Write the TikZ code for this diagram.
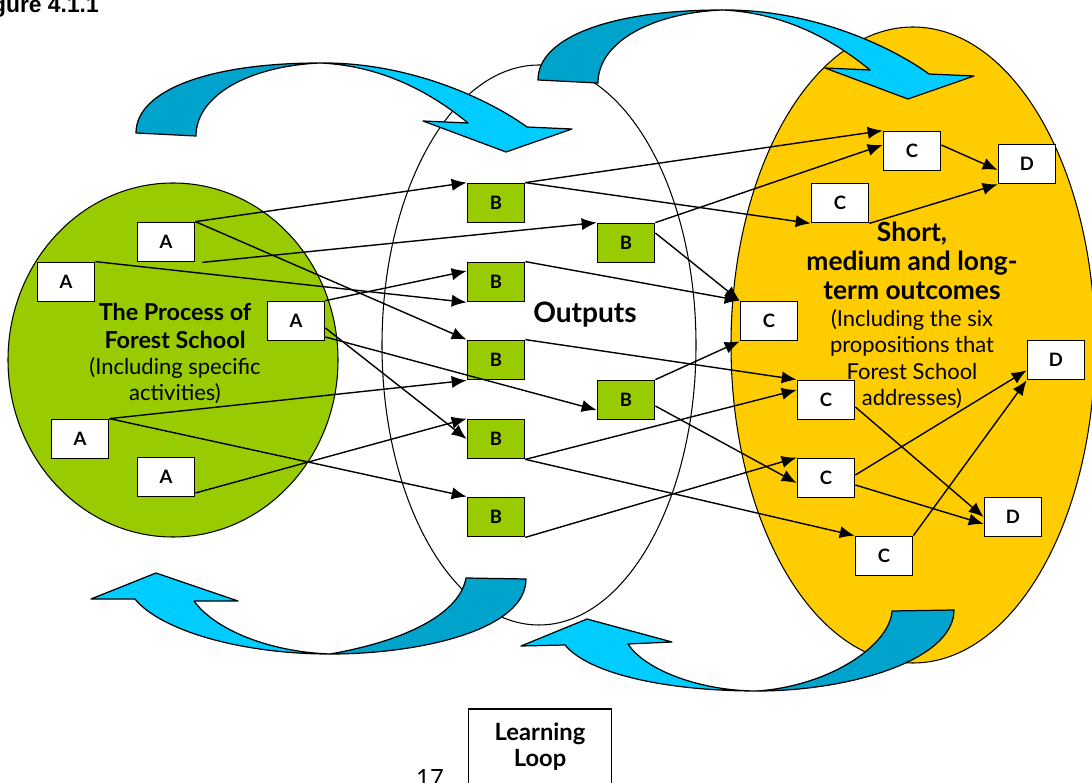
\documentclass[tikz,border=0pt]{standalone}
\usepackage{fontspec}
\setmainfont{Lato}
\newfontfamily\arialfont{Liberation Sans}
\usetikzlibrary{arrows.meta,positioning}
\definecolor{fsgreen}{RGB}{153,204,0}
\definecolor{fsyellow}{RGB}{255,204,0}
\definecolor{loopcyan}{RGB}{0,204,255}
\definecolor{loopdark}{RGB}{0,163,204}
\begin{document}
\begin{tikzpicture}[
    x=0.02cm, y=-0.02cm,
    box/.style={rectangle, draw, fill=white, line width=1pt, minimum width=1.14cm, minimum height=0.78cm, inner sep=0pt, font=\bfseries\fontsize{10.5}{12}\selectfont},
    outbox/.style={box, fill=fsgreen},
    loopbox/.style={rectangle, draw, line width=1pt, minimum width=2.86cm, minimum height=2cm, anchor=north},
    blob/.style={draw, line width=0.6pt},
    band/.style={draw, line width=0.7pt, line join=round},
    link/.style={->, line width=0.8pt},
    >={Latex[length=8.5pt,width=7pt]}
]
\useasboundingbox (0,0) rectangle (1092,783);

% Ueberschrift
\node[anchor=base east, font=\arialfont\bfseries\fontsize{13}{15}\selectfont] (figlabel) at (105,13) {Figure 4.1.1};

% Ellipsen
\draw[blob, fill=fsgreen] (173,360) ellipse [x radius=165, y radius=177];
\draw[blob, fill=white] (539,345) ellipse [x radius=157, y radius=280];
\draw[blob, fill=fsyellow] (913,345) ellipse [x radius=182, y radius=318];

% Lernschleife oben links
\draw[band, fill=loopdark] (136,133) .. controls (136,90) and (210,63) .. (320,63)
    .. controls (250,66) and (196,95) .. (196,136) -- cycle;
\draw[band, fill=loopcyan] (320,63) .. controls (410,62) and (490,100) .. (527,127)
    -- (572,129) -- (506,152) -- (423,121) -- (468,123)
    .. controls (440,100) and (390,66) .. (320,63) -- cycle;

% Lernschleife oben rechts
\draw[band, fill=loopdark] (538,80) .. controls (538,37) and (612,10) .. (722,10)
    .. controls (652,13) and (598,42) .. (598,83) -- cycle;
\draw[band, fill=loopcyan] (722,10) .. controls (812,9) and (892,47) .. (929,74)
    -- (974,76) -- (908,99) -- (825,68) -- (870,70)
    .. controls (842,47) and (792,13) .. (722,10) -- cycle;

% Lernschleife unten links
\draw[band, fill=loopdark] (526,579) .. controls (526,630) and (420,654) .. (330,654)
    .. controls (410,640) and (460,612) .. (466,578) -- cycle;
\draw[band, fill=loopcyan] (330,654) .. controls (240,654) and (160,630) .. (135,599)
    -- (91,599) -- (156,573) -- (238,601) -- (194,601)
    .. controls (215,630) and (270,652) .. (330,654) -- cycle;

% Lernschleife unten rechts
\draw[band, fill=loopdark] (954,610) .. controls (954,660) and (850,691) .. (757,691)
    .. controls (830,686) and (890,645) .. (892,611) -- cycle;
\draw[band, fill=loopcyan] (757,691) .. controls (670,691) and (590,675) .. (565,645)
    -- (521,646) -- (587,619) -- (672,642) -- (628,644)
    .. controls (645,670) and (700,691) .. (757,691) -- cycle;

% Beschriftungen der Ellipsen
\node[align=center, font=\fontsize{12.5}{14.8}\selectfont] (process) at (175,353)
    {{\bfseries\fontsize{13.3}{14.8}\selectfont The Process of}\\[1.2pt]
     {\bfseries\fontsize{13.3}{14.8}\selectfont Forest School}\\(Including specific\\activities)};
\node[font=\bfseries\fontsize{16}{18}\selectfont] (outputs) at (585,315) {Outputs};
\node[align=center, font=\fontsize{12.5}{14.9}\selectfont] (outcomes) at (912,315)
    {{\bfseries\fontsize{15}{14.9}\selectfont Short,}\\[1.8pt]
     {\bfseries\fontsize{15}{14.9}\selectfont medium and long-}\\[1.8pt]
     {\bfseries\fontsize{15}{14.9}\selectfont term outcomes}\\[0.4pt]
     (Including the six\\propositions that\\Forest School\\addresses)};

% Kaestchen A
\node[box] at (166,242) (a1) {A};
\node[box] at (66,282) (a2) {A};
\node[box] at (296,321) (a3) {A};
\node[box] at (80,439) (a4) {A};
\node[box] at (166,477) (a5) {A};

% Kaestchen B
\node[outbox] at (496,203) (b1) {B};
\node[outbox] at (496,282) (b2) {B};
\node[outbox] at (496,360) (b3) {B};
\node[outbox] at (496,439) (b4) {B};
\node[outbox] at (496,517) (b5) {B};
\node[outbox] at (626,243) (b6) {B};
\node[outbox] at (626,400) (b7) {B};

% Kaestchen C
\node[box] at (912,151) (c1) {C};
\node[box] at (840,203) (c2) {C};
\node[box] at (769,321) (c3) {C};
\node[box] at (826,400) (c4) {C};
\node[box] at (826,478) (c5) {C};
\node[box] at (884,556) (c6) {C};

% Kaestchen D
\node[box] at (1027,164) (d1) {D};
\node[box] at (1056,360) (d2) {D};
\node[box] at (1013,517) (d3) {D};

% Verbindungen A nach B
\draw[link] (a1.north east) -- (b1.north west);
\draw[link] (a1.north east) -- (b3.north west);
\draw[link] ([xshift=0.14cm]a1.south east) -- (b6.north west);
\draw[link] (a2.north east) -- (b2.south west);
\draw[link] (a3.north east) -- ([yshift=0.22cm]b2.west);
\draw[link] ([yshift=-0.14cm]a3.east) -- (b4.west);
\draw[link] ([yshift=-0.32cm]a3.east) -- ([yshift=-0.2cm]b7.west);
\draw[link] (a4.north east) -- (b3.south west);
\draw[link] (a4.north east) -- (b5.north west);
\draw[link] ([yshift=-0.32cm]a5.east) -- (b4.north west);

% Verbindungen B nach C
\draw[link] (b1.north east) -- (c1.north west);
\draw[link] (b1.north east) -- (c2.south west);
\draw[link] (b6.north east) -- ([yshift=0.12cm]c1.west);
\draw[link] ([yshift=0.2cm]b6.east) -- (c3.north west);
\draw[link] (b2.north east) -- (c3.north west);
\draw[link] (b3.north east) -- (c4.north west);
\draw[link] (b7.north east) -- (c3.south west);
\draw[link] (b4.south east) -- ([yshift=0.2cm]c4.west);
\draw[link] (b4.south east) -- (c6.north west);
\draw[link] ([yshift=-0.12cm]b7.east) -- ([yshift=-0.1cm]c5.west);
\draw[link] (b5.south east) -- (c5.north west);

% Verbindungen C nach D
\draw[link] ([yshift=0.12cm]c1.east) -- ([yshift=-0.12cm]d1.west);
\draw[link] (c2.south east) -- (d1.south west);
\draw[link] ([yshift=-0.14cm]c4.east) -- (d3.west);
\draw[link] ([yshift=-0.14cm]c5.east) -- ([yshift=-0.14cm]d3.west);
\draw[link] ([yshift=0.06cm]c5.east) -- ([yshift=0.2cm]d2.south west);
\draw[link] (c6.north east) -- (d2.south west);

% Seitenzahl und Lernschleife
\node[anchor=base, font=\fontsize{13.5}{15}\selectfont] (pagenum) at (430,786) {17};
\node[loopbox] (loop) at (540,708) {};
\node[below=0.18cm of loop.north, align=center, font=\bfseries\fontsize{13.5}{14.8}\selectfont] (looptext) {Learning\\Loop};
\end{tikzpicture}
\end{document}
